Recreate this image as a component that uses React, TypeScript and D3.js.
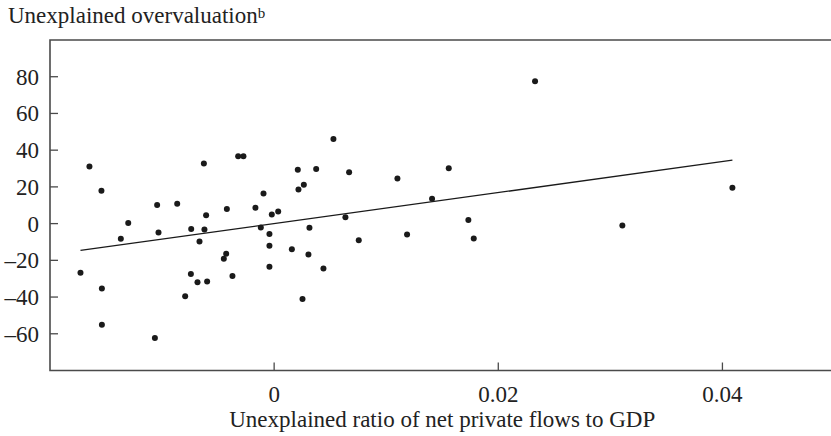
import React from "react";
import * as d3 from "d3";

const xValues: number[] = [
  -0.01728, -0.01648, -0.01541, -0.01537, -0.01537, -0.01368, -0.01302, -0.01064,
  -0.01044, -0.01032, -0.00865, -0.00794, -0.00743, -0.0074, -0.00684, -0.00666,
  -0.00627, -0.00622, -0.00607, -0.00598, -0.00449, -0.00428, -0.00422, -0.00372,
  -0.00321, -0.00274, -0.00167, -0.00119, -0.00095, -0.00042, -0.00042, -0.00042,
  -0.00021, 0.00036, 0.00158, 0.00211, 0.00217, 0.00265, 0.00375, 0.00529,
  0.00669, 0.00315, 0.00306, 0.0044, 0.00253, 0.00636, 0.00755, 0.011,
  0.01186, 0.01409, 0.01558, 0.01733, 0.01781, 0.02328, 0.03107, 0.04089,
];
const yValues: number[] = [
  -26.8, 31.1, 17.9, -35.3, -55.1, -8.3, 0.4, -62.3,
  10.2, -4.8, 10.8, -39.5, -27.5, -3.0, -32.0, -9.7,
  32.8, -3.2, 4.6, -31.5, -19.2, -16.4, 7.9, -28.6,
  36.7, 36.7, 8.6, -2.1, 16.4, -5.6, -12.1, -23.5,
  5.0, 6.6, -13.9, 29.3, 18.6, 21.1, 29.7, 46.1,
  28.0, -2.3, -16.8, -24.4, -41.1, 3.4, -9.1, 24.6,
  -5.9, 13.5, 30.2, 1.9, -8.1, 77.6, -1.0, 19.5,
];
const fitIntercept = 0;
const fitSlope = 845;

const xTicks: number[] = [0, 0.02, 0.04];
const xTickLabels: string[] = ["0", "0.02", "0.04"];
const yTicks: number[] = [80, 60, 40, 20, 0, -20, -40, -60];
const yTickLabels: string[] = ["80", "60", "40", "20", "0", "–20", "–40", "–60"];
const xDomain: [number, number] = [-0.02, 0.05];
const yDomain: [number, number] = [-80, 100];
const yTitle = "Unexplained overvaluation";
const yTitleSup = "b";
const xTitle = "Unexplained ratio of net private flows to GDP";

const W = 831;
const H = 436;
const left = 50;
const right = 834.5;
const top = 40;
const bottom = 370.5;
const font = "'Liberation Serif', 'Times New Roman', serif";
const axisColor = "#4a4a4a";
const fs = 23;

export default function App() {
  const x = d3.scaleLinear().domain(xDomain).range([left, right]);
  const y = d3.scaleLinear().domain(yDomain).range([bottom, top]);
  const pts = xValues.map((v, i) => [v, yValues[i]] as [number, number]);
  const xMin = d3.min(xValues) as number;
  const xMax = d3.max(xValues) as number;
  const line = d3
    .line<number>()
    .x((d) => x(d))
    .y((d) => y(fitIntercept + fitSlope * d));
  const framePath = `M${right},${top}H${left}V${bottom}H${right}`;

  return (
    <svg
      width={W}
      height={H}
      style={{ position: "absolute", left: 0, top: 0, background: "#fff" }}
      fontFamily={font}
    >
      <rect width={W} height={H} fill="#fff" />
      <text x={8} y={23} fontSize={fs} fill="#222">
        {yTitle}
        <tspan fontSize={15} dy={-5}>
          {yTitleSup}
        </tspan>
      </text>
      <path d={framePath} fill="none" stroke={axisColor} strokeWidth={1.6} />
      {yTicks.map((t, i) => (
        <g key={"y" + t}>
          <line x1={left} x2={left + 8} y1={y(t)} y2={y(t)} stroke={axisColor} strokeWidth={1.3} />
          <text
            x={left - 11}
            y={y(t)}
            dy="0.35em"
            textAnchor="end"
            fontSize={fs}
            fill="#222"
          >
            {yTickLabels[i]}
          </text>
        </g>
      ))}
      {xTicks.map((t, i) => (
        <g key={"x" + t}>
          <line x1={x(t)} x2={x(t)} y1={bottom} y2={bottom - 8} stroke={axisColor} strokeWidth={1.3} />
          <text x={x(t)} y={402} textAnchor="middle" fontSize={fs} fill="#222">
            {xTickLabels[i]}
          </text>
        </g>
      ))}
      <text x={(left + right) / 2} y={427} textAnchor="middle" fontSize={fs} fill="#222">
        {xTitle}
      </text>
      <path d={line([xMin, xMax]) || ""} fill="none" stroke="#1a1a1a" strokeWidth={1.3} />
      {pts.map((p, i) => (
        <circle key={i} cx={x(p[0])} cy={y(p[1])} r={3} fill="#1a1a1a" />
      ))}
    </svg>
  );
}
